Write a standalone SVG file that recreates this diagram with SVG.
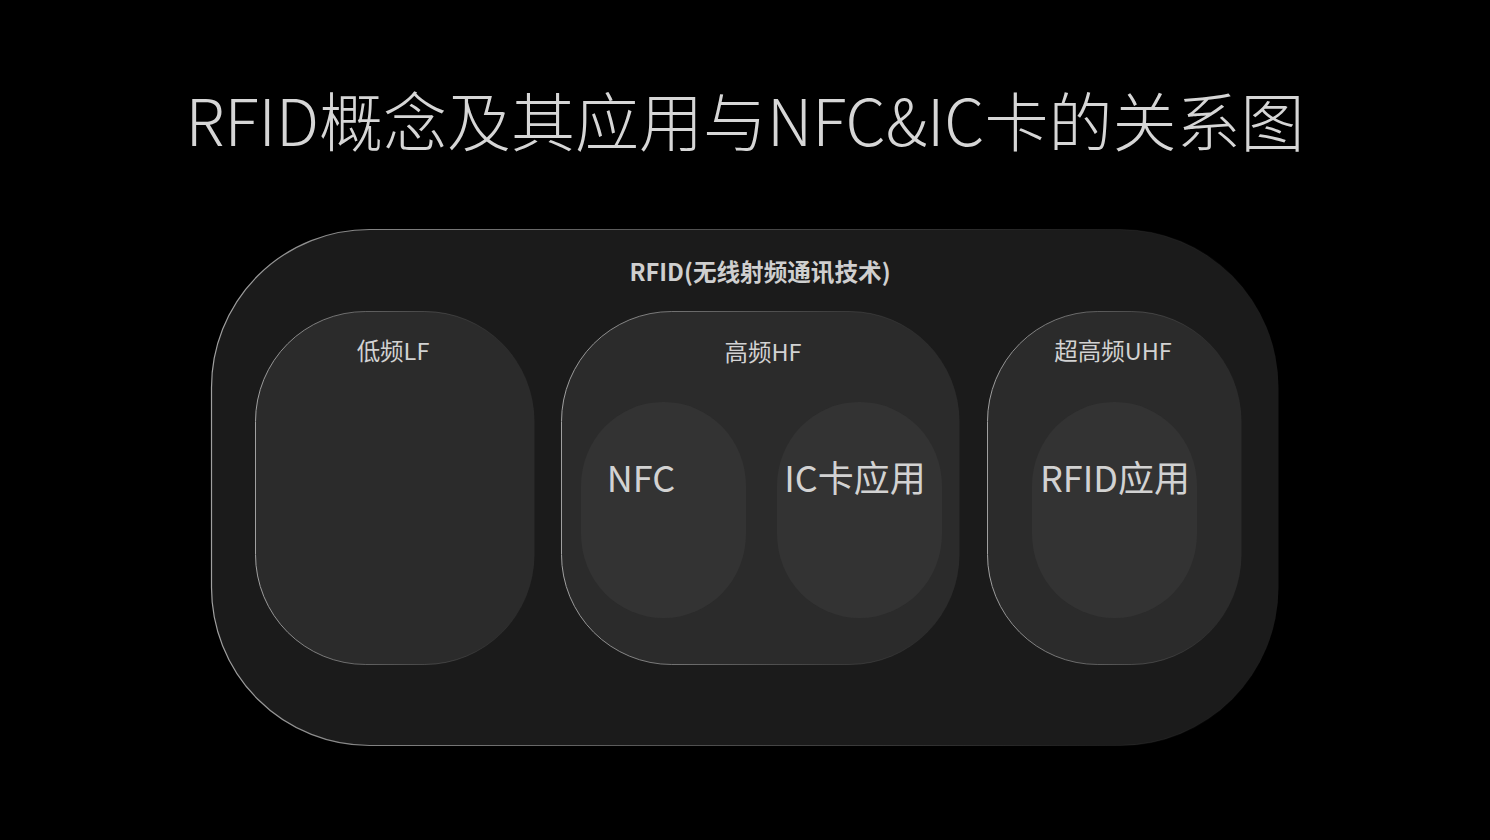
<svg xmlns="http://www.w3.org/2000/svg" width="1490" height="840" viewBox="0 0 1490 840">
<defs>
<linearGradient id="edge" x1="0" y1="0" x2="1" y2="0">
<stop offset="0" stop-color="#a0a0a0" stop-opacity="1"/>
<stop offset="0.6" stop-color="#808080" stop-opacity="0.4"/>
<stop offset="1" stop-color="#606060" stop-opacity="0"/>
</linearGradient>
<style>
.t{font-family:"Noto Sans CJK SC","Noto Sans",sans-serif;fill:#d2d2d2}
.title{font-size:64px;font-weight:300;fill:#d6d6d6}
.sub{font-size:23.6px;font-weight:700;fill:#cfcfcf}
.l2{font-size:23.5px;font-weight:400}
.l3{font-size:36px;font-weight:400}
.outer{fill:#1b1b1b;stroke:url(#edge);stroke-width:1.2}
.mid{fill:#2b2b2b;stroke:url(#edge);stroke-width:1}
.inner{fill:#333333}
</style>
</defs>
<rect width="1490" height="840" fill="#000"/>
<text class="t title" x="745" y="146" text-anchor="middle">RFID概念及其应用与NFC&amp;IC卡的关系图</text>
<g id="rfid">
<rect class="outer" x="211.5" y="229.5" width="1067" height="516" rx="158" ry="158"/>
<text class="t sub" x="760" y="281" text-anchor="middle">RFID(无线射频通讯技术)</text>
</g>
<g id="lf">
<rect class="mid" x="255.5" y="311.5" width="279" height="353" rx="110" ry="110"/>
<text class="t l2" x="393" y="360" text-anchor="middle">低频LF</text>
</g>
<g id="hf">
<rect class="mid" x="561.5" y="311.5" width="398" height="353" rx="110" ry="110"/>
<text class="t l2" x="763" y="361" text-anchor="middle">高频HF</text>
</g>
<g id="nfc">
<rect class="inner" x="581" y="402" width="165" height="216" rx="82" ry="84"/>
<text class="t l3" x="641" y="492" text-anchor="middle">NFC</text>
</g>
<g id="ic">
<rect class="inner" x="777" y="402" width="165" height="216" rx="82" ry="84"/>
<text class="t l3" x="855" y="492" text-anchor="middle">IC卡应用</text>
</g>
<g id="uhf">
<rect class="mid" x="987.5" y="311.5" width="254" height="353" rx="110" ry="110"/>
<text class="t l2" x="1113" y="360" text-anchor="middle">超高频UHF</text>
</g>
<g id="rfidapp">
<rect class="inner" x="1032" y="402" width="165" height="216" rx="82" ry="84"/>
<text class="t l3" x="1115" y="492" text-anchor="middle">RFID应用</text>
</g>
<g id="connectors"/>
</svg>
